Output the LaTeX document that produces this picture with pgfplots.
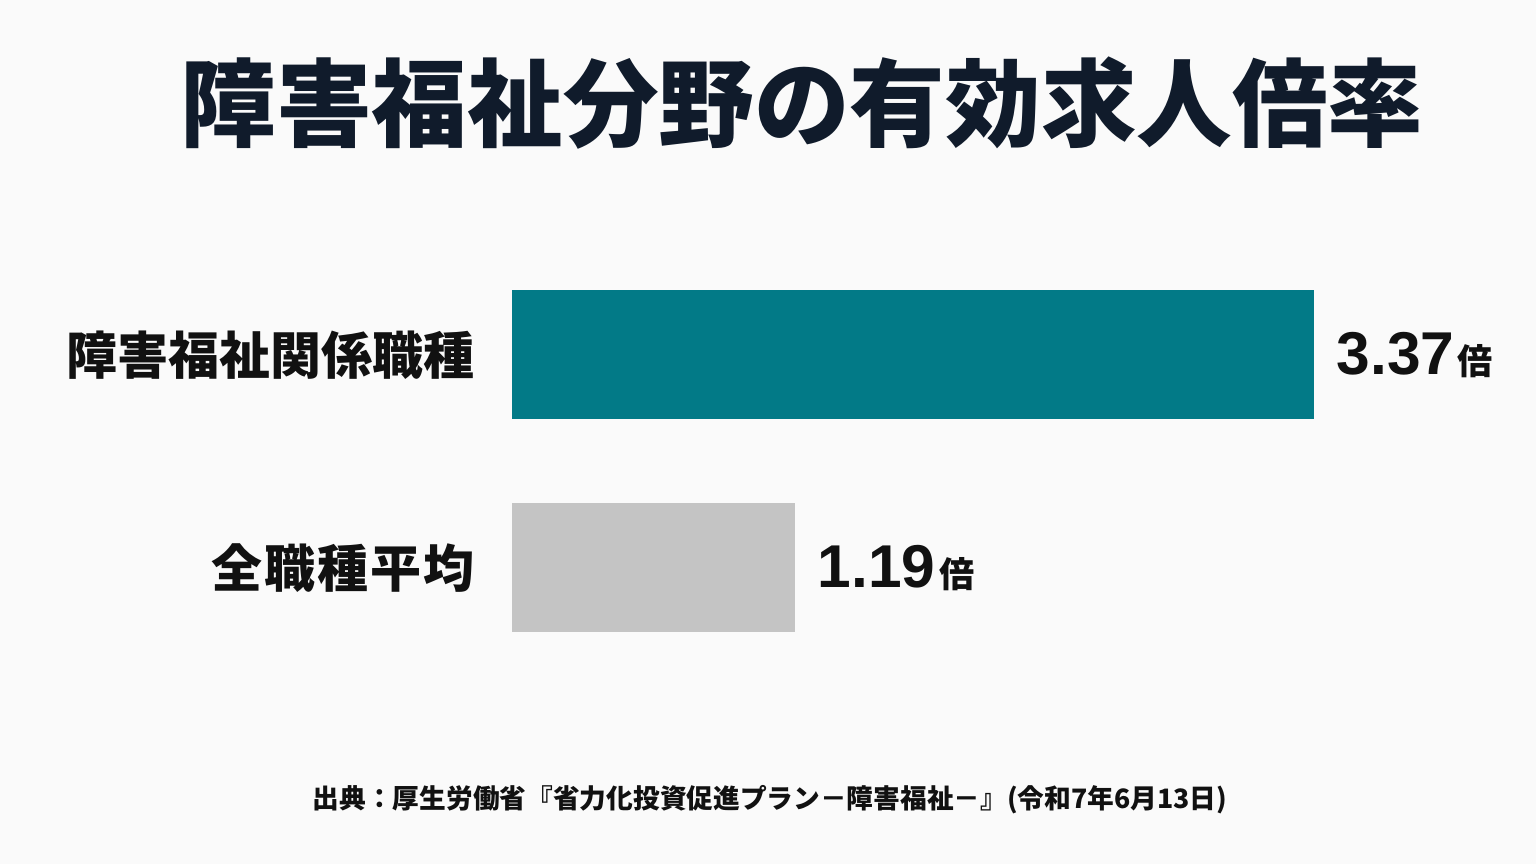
\documentclass[border=0pt]{standalone}
\usepackage{fontspec}
\usepackage{pgfplots}
\pgfplotsset{compat=1.18}
\setmainfont{Liberation Sans}
\newfontfamily\jp{Noto Sans CJK JP}
\newfontfamily\jpblack{Noto Sans CJK JP Black}

\definecolor{bg}{HTML}{FAFAFA}
\definecolor{barteal}{HTML}{027A87}
\definecolor{bargray}{HTML}{C4C4C4}
\definecolor{titlecol}{HTML}{101B2B}
\definecolor{txt}{HTML}{111111}

\begin{document}
\begin{tikzpicture}
\fill[bg] (0,0) rectangle (15.36,8.64);

% title
\node[font=\jpblack\fontsize{27.2}{30}\selectfont, text=titlecol] at (8.02,7.61) {障害福祉分野の有効求人倍率};

\begin{axis}[
    at={(5.12cm,1.895cm)}, anchor=south west,
    scale only axis,
    width=9.52cm, height=4.26cm,
    xbar, bar width=1.29cm, bar shift=0pt,
    xmin=0, xmax=4, ymin=-0.5, ymax=1.5,
    axis line style={draw=none},
    major tick length=0pt,
    xtick=\empty,
    ytick={0,1},
    yticklabels={全\hspace{0.6pt}職\hspace{0.6pt}種\hspace{0.6pt}平\hspace{0.6pt}均,障害福祉関係職種},
    yticklabel style={font=\jp\bfseries\fontsize{14.5}{16}\selectfont, text=txt, inner sep=0pt, xshift=-3.7mm},
    clip=false,
    nodes near coords={\fontsize{17.2}{18}\selectfont\bfseries\pgfmathprintnumber[fixed,fixed zerofill,precision=2]{\pgfplotspointmeta}\hspace{1pt}{\jp\bfseries\fontsize{10}{11}\selectfont 倍}},
    nodes near coords style={anchor=west, inner sep=0pt, xshift=2.2mm, text=txt},
    /pgf/number format/assume math mode=true,
]
\addplot[fill=barteal, draw=none] coordinates {(3.37,1)};
\addplot[fill=bargray, draw=none] coordinates {(1.19,0)};
\end{axis}

% source
\node[font=\jp\bfseries\fontsize{7.6}{9}\selectfont, text=txt] at (7.70,0.64) {出典：厚生労働省『省力化投資促進プラン－障害福祉－』(令和7年6月13日)};

\pgfresetboundingbox
\useasboundingbox (0,0) rectangle (15.36,8.64);
\end{tikzpicture}
\end{document}
